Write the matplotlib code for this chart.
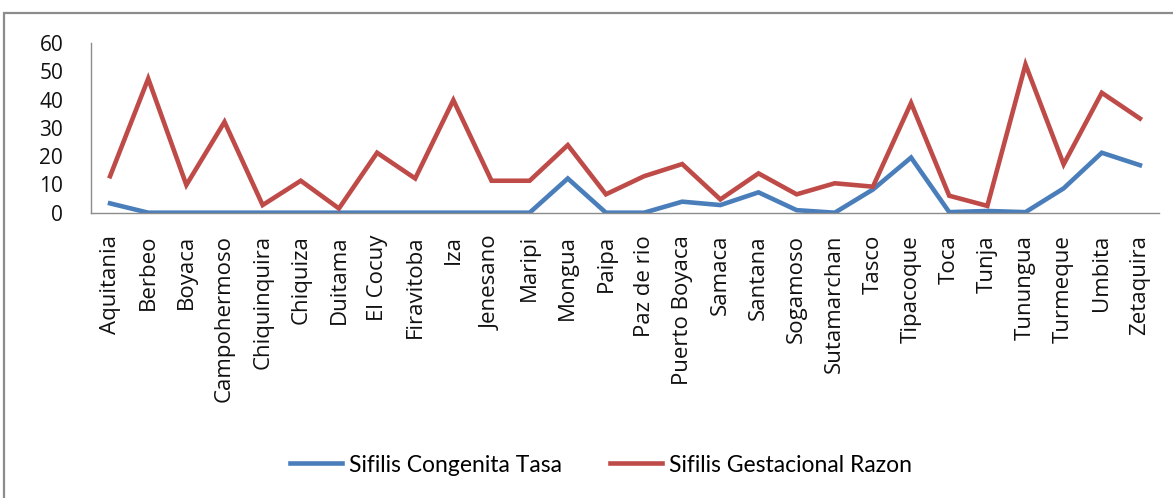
import matplotlib
matplotlib.use("Agg")
import matplotlib.pyplot as plt
from matplotlib.patches import Rectangle

municipios = ["Aquitania", "Berbeo", "Boyaca", "Campohermoso", "Chiquinquira", "Chiquiza",
              "Duitama", "El Cocuy", "Firavitoba", "Iza", "Jenesano", "Maripi", "Mongua",
              "Paipa", "Paz de rio", "Puerto Boyaca", "Samaca", "Santana", "Sogamoso",
              "Sutamarchan", "Tasco", "Tipacoque", "Toca", "Tunja", "Tunungua", "Turmeque",
              "Umbita", "Zetaquira"]
congenita_tasa = [3.3, 0, 0, 0, 0, 0, 0, 0, 0, 0, 0, 0, 12.1, 0, 0, 3.9, 2.7, 7.2, 0.9,
                  0, 8.2, 19.5, 0.2, 0.6, 0.2, 8.6, 21.2, 16.8]
gestacional_razon = [12.9, 47.4, 9.8, 32.1, 2.7, 11.3, 1.5, 21.2, 12.1, 39.8, 11.3, 11.3,
                     23.9, 6.5, 12.9, 17.2, 4.7, 13.9, 6.5, 10.4, 9.2, 38.8, 6.0, 2.4,
                     52.4, 17.1, 42.4, 33.3]
yticks = [0, 10, 20, 30, 40, 50, 60]
series_names = ["Sifilis Congenita Tasa", "Sifilis Gestacional Razon"]

W, H = 1173, 498
fig = plt.figure(figsize=(W / 100, H / 100), dpi=100)
fig.patch.set_facecolor("white")

# outer chart border
fig.patches.append(Rectangle((4 / W, -0.05), 1.2, 1 - 13 / H + 0.05, transform=fig.transFigure,
                             fill=False, edgecolor="#8c8c8c", linewidth=1.6))

ax = fig.add_axes([91 / W, 1 - 212.7 / H, (1159 - 91) / W, (212.7 - 43) / H])
x = list(range(len(municipios)))
ax.plot(x, congenita_tasa, color="#4A7EBB", linewidth=3.3, solid_joinstyle="miter",
        label=series_names[0])
ax.plot(x, gestacional_razon, color="#BE4B48", linewidth=3.3, solid_joinstyle="miter",
        label=series_names[1])

ax.set_xlim(-0.5, len(municipios) - 0.5)
ax.set_ylim(0, 60)
ax.set_yticks(yticks)
ax.set_yticklabels([str(v) for v in yticks], fontsize=15, family="Open Sans", color="#111111")
ax.set_xticks(x)
ax.set_xticklabels(municipios, rotation=90, fontsize=16, family="Open Sans", color="#111111")
ax.tick_params(axis="both", length=0)
ax.tick_params(axis="y", pad=20)
ax.tick_params(axis="x", pad=16)
for side in ["top", "right"]:
    ax.spines[side].set_visible(False)
for side in ["left", "bottom"]:
    ax.spines[side].set_color("#8c8c8c")
    ax.spines[side].set_linewidth(1.0)

leg = fig.legend(loc="center", bbox_to_anchor=(601 / W, 1 - 465 / H), ncol=2, frameon=False,
                 prop={"family": "Lato", "size": 16.5},
                 handlelength=2.27, columnspacing=2.1, handletextpad=0.3)

fig.savefig("out.png", dpi=100, facecolor="white")
